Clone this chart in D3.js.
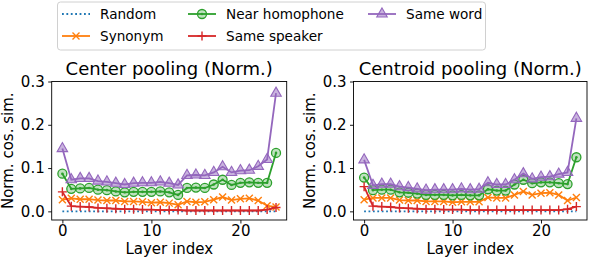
<!DOCTYPE html>
<html>
<head>
<meta charset="utf-8">
<script src="https://cdn.jsdelivr.net/npm/d3@7"></script>
<style>
  body { margin: 0; background: #fff; }
  text { font-family: "DejaVu Sans", sans-serif; fill: #000; }
</style>
</head>
<body>
<div id="chart"></div>
<script>
//// DATA ////

var layers = [0, 1, 2, 3, 4, 5, 6, 7, 8, 9, 10, 11, 12, 13, 14, 15, 16, 17, 18, 19, 20, 21, 22, 23, 24];
var xTicks = [0, 10, 20];
var yTicks = [0.0, 0.1, 0.2, 0.3];
var seriesNames = ["Random", "Synonym", "Near homophone", "Same speaker", "Same word"];
var panelTitles = ["Center pooling (Norm.)", "Centroid pooling (Norm.)"];

// Center pooling
var centerRandom = [0, 0, 0, 0, 0, 0, 0, 0, 0, 0, 0, 0, 0, 0, 0, 0, 0, 0, 0, 0, 0, 0, 0, 0, 0];
var centerSynonym = [0.027, 0.030, 0.028, 0.028, 0.026, 0.025, 0.025, 0.023, 0.023, 0.022, 0.020, 0.021, 0.019, 0.015, 0.023, 0.021, 0.022, 0.027, 0.033, 0.026, 0.029, 0.030, 0.025, 0.013, 0.010];
var centerHomophone = [0.087, 0.052, 0.053, 0.054, 0.050, 0.049, 0.046, 0.044, 0.045, 0.045, 0.045, 0.046, 0.044, 0.038, 0.054, 0.055, 0.054, 0.062, 0.073, 0.061, 0.066, 0.067, 0.066, 0.066, 0.135];
var centerSpeaker = [0.045, 0.012, 0.011, 0.010, 0.008, 0.007, 0.006, 0.005, 0.005, 0.004, 0.004, 0.003, 0.003, 0.003, 0.002, 0.002, 0.002, 0.002, 0.002, 0.002, 0.002, 0.002, 0.002, 0.004, 0.009];
var centerWord = [0.145, 0.073, 0.076, 0.076, 0.070, 0.068, 0.065, 0.062, 0.065, 0.066, 0.066, 0.068, 0.065, 0.061, 0.083, 0.084, 0.083, 0.090, 0.103, 0.090, 0.094, 0.095, 0.104, 0.120, 0.273];

// Centroid pooling
var centroidRandom = [0, 0, 0, 0, 0, 0, 0, 0, 0, 0, 0, 0, 0, 0, 0, 0, 0, 0, 0, 0, 0, 0, 0, 0, 0];
var centroidSynonym = [0.027, 0.031, 0.031, 0.031, 0.026, 0.025, 0.025, 0.023, 0.023, 0.023, 0.021, 0.022, 0.022, 0.022, 0.032, 0.031, 0.031, 0.038, 0.046, 0.038, 0.042, 0.043, 0.038, 0.025, 0.032];
var centroidHomophone = [0.078, 0.049, 0.050, 0.050, 0.044, 0.043, 0.041, 0.038, 0.038, 0.038, 0.037, 0.038, 0.037, 0.037, 0.051, 0.048, 0.048, 0.062, 0.073, 0.065, 0.067, 0.067, 0.065, 0.063, 0.125];
var centroidSpeaker = [0.057, 0.012, 0.011, 0.010, 0.008, 0.007, 0.006, 0.005, 0.005, 0.004, 0.004, 0.004, 0.003, 0.003, 0.003, 0.003, 0.003, 0.003, 0.003, 0.003, 0.003, 0.003, 0.003, 0.005, 0.011];
var centroidWord = [0.119, 0.060, 0.063, 0.063, 0.057, 0.055, 0.052, 0.049, 0.050, 0.050, 0.050, 0.052, 0.050, 0.051, 0.066, 0.062, 0.062, 0.073, 0.087, 0.075, 0.079, 0.080, 0.086, 0.090, 0.215];

//// SET UP ////

var svgWidth = 590;
var svgHeight = 260;

var colors = ["#1f77b4", "#ff7f0e", "#2ca02c", "#d62728", "#9467bd"];
var markers = ["none", "x", "circle", "plus", "triangle"];

var svg = d3.select("#chart")
  .append("svg")
  .attr("width", svgWidth)
  .attr("height", svgHeight);

// axes boxes in pixels
var panelBoxes = [
  { left: 51.7, right: 286.7 },
  { left: 353.5, right: 587 }
];
var plotTop = 81.5, plotBottom = 220;

var panelData = [
  [centerRandom, centerSynonym, centerHomophone, centerSpeaker, centerWord],
  [centroidRandom, centroidSynonym, centroidHomophone, centroidSpeaker, centroidWord]
];

// draw one marker at the origin of group g
function drawMarker(g, type, color) {
  if (type === "x") {
    g.append("path").attr("d", "M-3.5,-3.5L3.5,3.5M-3.5,3.5L3.5,-3.5")
      .attr("stroke", color).attr("stroke-width", 1.4).attr("fill", "none");
  } else if (type === "plus") {
    g.append("path").attr("d", "M0,-4.5L0,4.5M-4.5,0L4.5,0")
      .attr("stroke", color).attr("stroke-width", 1.4).attr("fill", "none");
  } else if (type === "circle") {
    g.append("circle").attr("r", 4.5)
      .attr("fill", color).attr("fill-opacity", 0.3)
      .attr("stroke", color).attr("stroke-width", 1.3);
    g.append("circle").attr("r", 1.3).attr("fill", color);
  } else if (type === "triangle") {
    g.append("path").attr("d", d3.symbol(d3.symbolTriangle, 48)())
      .attr("fill", color).attr("fill-opacity", 0.5)
      .attr("stroke", color).attr("stroke-width", 1.1);
  }
}

//// PANELS ////

panelBoxes.forEach(function(box, p) {
  var xScale = d3.scaleLinear().domain([-1.2, 25.2]).range([box.left, box.right]);
  var yScale = d3.scaleLinear().domain([-0.02, 0.3]).range([plotBottom, plotTop]);

  var chartGroup = svg.append("g");

  // series
  panelData[p].forEach(function(values, s) {
    var pts = layers.map((l, i) => [l, values[i]]);
    var line = d3.line().x(d => xScale(d[0])).y(d => yScale(d[1]));
    chartGroup.append("path")
      .datum(pts)
      .attr("d", line)
      .attr("fill", "none")
      .attr("stroke", colors[s])
      .attr("stroke-width", 1.8)
      .attr("stroke-dasharray", s === 0 ? "1.8,2.6" : null);

    if (markers[s] !== "none") {
      pts.forEach(function(d) {
        var m = chartGroup.append("g")
          .attr("transform", `translate(${xScale(d[0])}, ${yScale(d[1])})`);
        drawMarker(m, markers[s], colors[s]);
      });
    }
  });

  // axes
  var bottomAxis = d3.axisBottom(xScale).tickValues(xTicks).tickSize(3.5).tickPadding(2).tickFormat(d3.format("d"));
  var leftAxis = d3.axisLeft(yScale).tickValues(yTicks).tickSize(3.5).tickPadding(3.5).tickFormat(d3.format(".1f"));

  var xAxis = svg.append("g")
    .attr("transform", `translate(0, ${plotBottom})`)
    .call(bottomAxis);
  var yAxis = svg.append("g")
    .attr("transform", `translate(${box.left}, 0)`)
    .call(leftAxis);

  [xAxis, yAxis].forEach(function(ax) {
    ax.select(".domain").remove();
    ax.selectAll("line").attr("stroke", "#000").attr("stroke-width", 0.9);
    ax.selectAll("text").attr("font-size", 15).attr("font-family", "DejaVu Sans").attr("fill", "#000");
  });

  // frame
  svg.append("rect")
    .attr("x", box.left)
    .attr("y", plotTop)
    .attr("width", box.right - box.left)
    .attr("height", plotBottom - plotTop)
    .attr("fill", "none")
    .attr("stroke", "#000")
    .attr("stroke-width", 0.9);

  // title
  svg.append("text")
    .attr("x", (box.left + box.right) / 2)
    .attr("y", 75)
    .attr("text-anchor", "middle")
    .attr("font-size", 18)
    .text(panelTitles[p]);

  // x label
  svg.append("text")
    .attr("x", (box.left + box.right) / 2)
    .attr("y", 254)
    .attr("text-anchor", "middle")
    .attr("font-size", 15)
    .text("Layer index");

  // y label
  svg.append("text")
    .attr("transform", `translate(${box.left - 38.5}, ${(plotTop + plotBottom) / 2}) rotate(-90)`)
    .attr("text-anchor", "middle")
    .attr("font-size", 15)
    .text("Norm. cos. sim.");
});

//// LEGEND ////

var legend = svg.append("g");
legend.append("rect")
  .attr("x", 57.5)
  .attr("y", 2)
  .attr("width", 428)
  .attr("height", 48)
  .attr("rx", 3)
  .attr("fill", "#fff")
  .attr("fill-opacity", 0.8)
  .attr("stroke", "#d0d0d0")
  .attr("stroke-width", 1);

var legendCols = [62, 188, 368];
var legendRows = [14, 36];

seriesNames.forEach(function(name, s) {
  var col = Math.floor(s / 2);
  var row = s % 2;
  var lx = legendCols[col];
  var ly = legendRows[row];
  var item = legend.append("g");
  item.append("line")
    .attr("x1", lx).attr("x2", lx + 28)
    .attr("y1", ly).attr("y2", ly)
    .attr("stroke", colors[s])
    .attr("stroke-width", 1.8)
    .attr("stroke-dasharray", s === 0 ? "1.8,2.6" : null);
  if (markers[s] !== "none") {
    var m = item.append("g").attr("transform", `translate(${lx + 14}, ${ly})`);
    drawMarker(m, markers[s], colors[s]);
  }
  item.append("text")
    .attr("x", lx + 38)
    .attr("y", ly)
    .attr("dy", "0.36em")
    .attr("font-size", 13.6)
    .text(name);
});
</script>
</body>
</html>
